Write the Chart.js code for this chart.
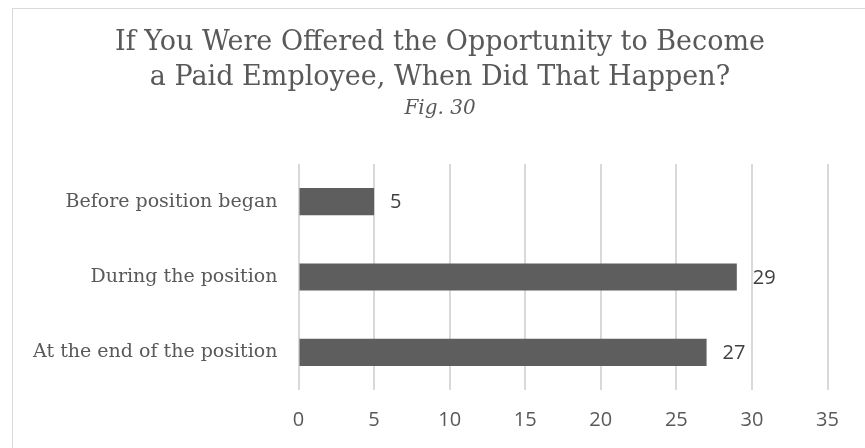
<!DOCTYPE html>
<html>
<head>
<meta charset="utf-8">
<script src="https://cdn.jsdelivr.net/npm/chart.js@4"></script>
<style>
  html, body { margin: 0; padding: 0; background: #fff; overflow: hidden; }
  #frame { position: absolute; left: 12px; top: 8px; width: 900px; height: 500px; border: 1.5px solid #d9d9d9; box-sizing: border-box; }
  #wrap { position: absolute; left: 0; top: 0; width: 865px; height: 448px; }
</style>
</head>
<body>
<div id="frame"></div>
<div id="wrap"><canvas id="chart" width="865" height="448"></canvas></div>
<script>
const titleLines = ["If You Were Offered the Opportunity to Become", "a Paid Employee, When Did That Happen?"];
const figLabel = "Fig. 30";
const categories = ["Before position began", "During the position", "At the end of the position"];
const counts = [5, 29, 27];
const xTicks = [0, 5, 10, 15, 20, 25, 30, 35];

const serif = "'DejaVu Serif', serif";
const sans = "'Open Sans', sans-serif";

// value labels just past the end of each bar
const barValues = {
  id: "barValues",
  afterDatasetsDraw(chart) {
    const ctx = chart.ctx;
    const meta = chart.getDatasetMeta(0);
    ctx.save();
    ctx.font = "20px " + sans;
    ctx.fillStyle = "#404040";
    ctx.textAlign = "left";
    ctx.textBaseline = "middle";
    meta.data.forEach((bar, i) => {
      ctx.fillText(String(counts[i]), bar.x + 16, bar.y + 1);
    });
    ctx.restore();
  }
};

new Chart(document.getElementById("chart"), {
  type: "bar",
  data: {
    labels: categories,
    datasets: [{
      data: counts,
      backgroundColor: "#5e5e5e",
      barPercentage: 0.36,
      categoryPercentage: 1
    }]
  },
  options: {
    indexAxis: "y",
    responsive: false,
    animation: false,
    layout: { padding: { left: 15, right: 0, top: 0, bottom: 0 } },
    plugins: {
      legend: { display: false },
      tooltip: { enabled: false },
      title: {
        display: true,
        text: titleLines,
        color: "#595959",
        font: { family: serif, size: 27, weight: "normal", lineHeight: 1.3 },
        padding: { top: 25.5, bottom: 0 }
      },
      subtitle: {
        display: true,
        text: figLabel,
        color: "#595959",
        font: { family: serif, size: 20, style: "italic", lineHeight: 1.2 },
        padding: { top: 1, bottom: 43.3 }
      }
    },
    scales: {
      x: {
        min: 0,
        max: 35,
        afterBuildTicks(scale) { scale.ticks = xTicks.map(v => ({ value: v })); },
        afterFit(scale) { scale.height = 58; },
        grid: { color: "#d9d9d9", lineWidth: 2, drawTicks: false },
        border: { display: false },
        ticks: { color: "#595959", padding: 18, font: { family: sans, size: 20 } }
      },
      y: {
        afterFit(scale) { scale.width = 283.5; },
        grid: { display: false, drawTicks: false },
        border: { display: false },
        ticks: { color: "#595959", padding: 21, font: { family: serif, size: 19 } }
      },
      // empty margin on the right of the plot
      yGap: {
        axis: "y",
        type: "category",
        position: "right",
        afterFit(scale) { scale.width = 37.5; },
        grid: { display: false, drawTicks: false },
        border: { display: false },
        ticks: { display: false }
      }
    }
  },
  plugins: [barValues]
});
</script>
</body>
</html>
